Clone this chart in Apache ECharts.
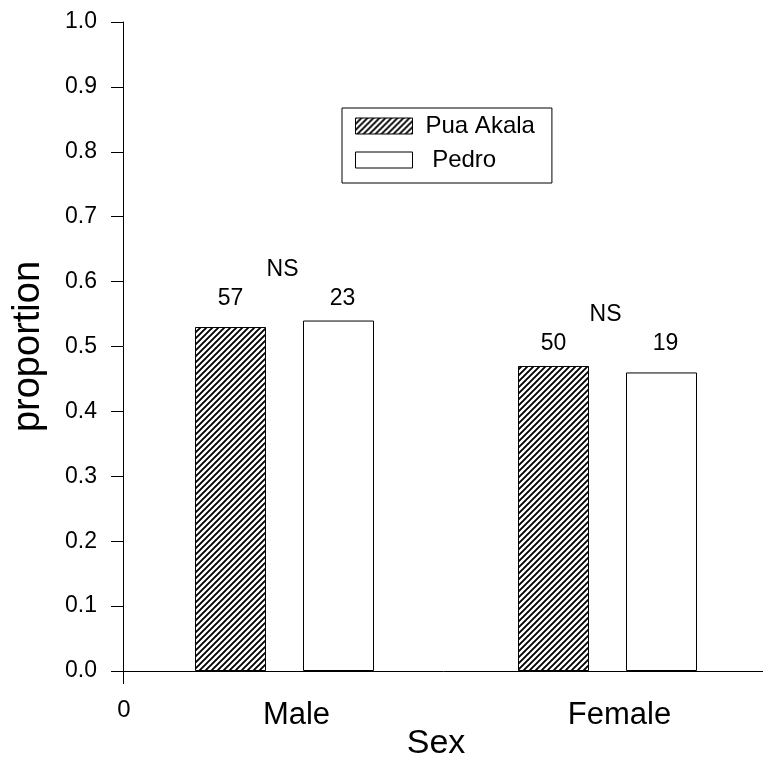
<!DOCTYPE html>
<html>
<head>
<meta charset="utf-8">
<script src="https://cdn.jsdelivr.net/npm/echarts@6/dist/echarts.min.js"></script>
<style>
html,body{margin:0;padding:0;background:#fff;}
#main{width:763px;height:765px;}
</style>
</head>
<body>
<div id="main"></div>
<script>
// ---- data ----
const categories = ['Male', 'Female'];
const seriesNames = ['Pua Akala', 'Pedro'];
const puaAkala = [0.53, 0.47];
const pedro = [0.54, 0.46];
const puaAkalaN = [57, 50];
const pedroN = [23, 19];
const significance = ['NS', 'NS'];
const yTicks = ['0.0','0.1','0.2','0.3','0.4','0.5','0.6','0.7','0.8','0.9','1.0'];

// ---- styles ----
const FONT = 'Liberation Sans, Arial, Helvetica, sans-serif';
const BAR_W = 71;
const BAR_GAP_PX = 37;
const HALF = (BAR_W + BAR_GAP_PX) / 2;

function hatchPattern() {
  const s = 6;
  const c = document.createElement('canvas');
  c.width = s; c.height = s;
  const ctx = c.getContext('2d');
  ctx.fillStyle = '#fff';
  ctx.fillRect(0, 0, s, s);
  ctx.strokeStyle = '#000';
  ctx.lineWidth = 1.9;
  ctx.beginPath();
  ctx.moveTo(-1, s + 1); ctx.lineTo(s + 1, -1);
  ctx.moveTo(-1, 1); ctx.lineTo(1, -1);
  ctx.moveTo(s - 1, s + 1); ctx.lineTo(s + 1, s - 1);
  ctx.stroke();
  return c;
}
const hatch = { image: hatchPattern(), repeat: 'repeat' };

const chart = echarts.init(document.getElementById('main'), null, { renderer: 'canvas' });

const groupTops = categories.map((c, i) => [i, Math.max(puaAkala[i], pedro[i])]);

const option = {
  animation: false,
  backgroundColor: '#fff',
  textStyle: { fontFamily: FONT, color: '#000' },
  grid: { left: 123, top: 22, width: 646, height: 649, containLabel: false, outerBoundsMode: 'none' },
  legend: {
    left: 342, top: 108,
    orient: 'vertical',
    backgroundColor: '#fff',
    borderColor: '#000', borderWidth: 1, borderRadius: 0,
    padding: [6, 17, 11, 13],
    itemWidth: 57, itemHeight: 16, itemGap: 10,
    icon: 'rect',
    selectedMode: false,
    formatter: n => n === 'Pedro' ? ' Pedro' : n,
    textStyle: { fontFamily: FONT, fontSize: 24, color: '#000', lineHeight: 24, padding: [0, 0, 0, 8] },
    data: [
      { name: seriesNames[0], itemStyle: { color: hatch, borderColor: '#000', borderWidth: 1 } },
      { name: seriesNames[1], itemStyle: { color: '#fff', borderColor: '#000', borderWidth: 1 } }
    ]
  },
  xAxis: [
    {
      type: 'category',
      data: categories,
      position: 'bottom',
      axisLine: { show: true, lineStyle: { color: '#000', width: 1 } },
      axisTick: { show: false },
      axisLabel: { margin: 29, fontSize: 31, fontFamily: FONT, color: '#000', padding: [0, 0, 0, 24] },
      name: 'Sex',
      nameLocation: 'middle',
      nameGap: 56,
      nameMoveOverlap: false,
      nameTextStyle: { fontSize: 34, fontFamily: FONT, color: '#000', padding: [0, 20, 0, 0] },
      splitLine: { show: false }
    },
    {
      type: 'value',
      position: 'bottom',
      min: 0, max: 1, interval: 1,
      axisLine: { show: false },
      axisTick: { show: true, length: 13, inside: false, lineStyle: { color: '#000', width: 1 } },
      axisLabel: { margin: 27, fontSize: 24, fontFamily: FONT, color: '#000', showMaxLabel: false,
                   padding: [0, 0, 0, 2],
                   formatter: v => v === 0 ? '0' : '' },
      splitLine: { show: false }
    }
  ],
  yAxis: {
    type: 'value',
    min: 0, max: 1, interval: 0.1,
    axisLine: { show: true, lineStyle: { color: '#000', width: 1 } },
    axisTick: { show: true, length: 12, inside: false, lineStyle: { color: '#000', width: 1 } },
    axisLabel: { margin: 26, fontSize: 23, fontFamily: FONT, color: '#000',
                 formatter: v => yTicks[Math.round(v * 10)] },
    splitLine: { show: false },
    name: 'proportion',
    nameLocation: 'middle',
    nameGap: 75,
    nameTextStyle: { fontSize: 38, fontFamily: FONT, color: '#000' }
  },
  series: [
    {
      name: seriesNames[0], type: 'bar', xAxisIndex: 0,
      data: puaAkala, barWidth: BAR_W, barGap: (BAR_GAP_PX / BAR_W * 100) + '%',
      itemStyle: { color: hatch, borderColor: '#000', borderWidth: 1 }
    },
    {
      name: seriesNames[1], type: 'bar', xAxisIndex: 0,
      data: pedro, barWidth: BAR_W, barGap: (BAR_GAP_PX / BAR_W * 100) + '%',
      itemStyle: { color: '#fff', borderColor: '#000', borderWidth: 1 }
    },
    {
      name: 'annotations', type: 'custom', xAxisIndex: 0, silent: true,
      data: groupTops,
      renderItem: (params, api) => {
        const i = api.value(0);
        const p = api.coord([i, api.value(1)]);
        const txt = (x, y, s) => ({
          type: 'text', x: x, y: y,
          style: { text: s, fontSize: 23, fontFamily: FONT, fill: '#000', align: 'center', verticalAlign: 'middle' }
        });
        return {
          type: 'group',
          children: [
            txt(p[0] - HALF, p[1] - 22, String(puaAkalaN[i])),
            txt(p[0] + HALF + 4, p[1] - 22, String(pedroN[i])),
            txt(p[0] - 2, p[1] - 51, significance[i])
          ]
        };
      }
    }
  ]
};
chart.setOption(option);
</script>
</body>
</html>
